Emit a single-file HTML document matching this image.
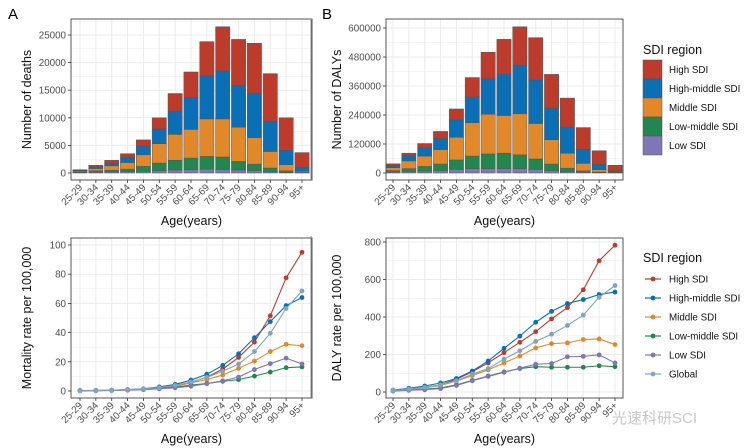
<!DOCTYPE html>
<html><head><meta charset="utf-8"><style>
body{margin:0;background:#fff;}
svg{display:block;font-family:"Liberation Sans",Arial,sans-serif;}
</style></head><body>
<svg id="chart" width="750" height="448" viewBox="0 0 750 448"></svg>
<script>
const ages=["25-29","30-34","35-39","40-44","45-49","50-54","55-59","60-64","65-69","70-74","75-79","80-84","85-89","90-94","95+"];
const regions=["High SDI","High-middle SDI","Middle SDI","Low-middle SDI","Low SDI"];
const lineRegions=["High SDI","High-middle SDI","Middle SDI","Low-middle SDI","Low SDI","Global"];
const colors=["#bd3b2b","#0a6fb4","#e1882a","#21874f","#7e76b5","#7ea6bd"];
const deathsLow=[100,150,200,250,300,450,550,600,700,650,550,450,250,100,30];
const deathsLowMid=[150,250,300,450,900,1350,1750,2100,2300,2250,1550,1150,650,300,70];
const deathsMid=[150,400,800,1200,2100,3500,4700,5200,6800,6900,6200,4800,3000,1100,200];
const deathsHighMid=[100,300,500,1000,1600,2700,4200,5800,7800,8700,7600,8100,5500,2600,700];
const deathsHigh=[100,300,500,600,1100,2000,3200,4600,6200,8000,8300,9000,8600,5900,2700];
const dalyLow=[4000,6000,8000,10000,15000,18000,18000,18000,18000,15000,10000,6000,3000,1500,500];
const dalyLowMid=[6000,12000,19000,27000,39000,52000,61000,64000,57000,43000,27000,14000,6000,2500,1000];
const dalyMid=[12000,32000,43000,60000,94000,138000,164000,156000,170000,147000,101000,62000,31000,10000,2500];
const dalyHighMid=[10000,22000,35000,46000,72000,107000,147000,172000,202000,180000,130000,108000,58000,22000,6000];
const dalyHigh=[6000,10000,17000,29000,45000,80000,110000,143000,158000,175000,140000,120000,90000,56000,22000];
const mortHigh=[0.2,0.3,0.5,0.8,1.2,2.0,3.5,6,9.5,15,23,33.5,51.5,77.5,95];
const mortHighMid=[0.3,0.4,0.6,1,1.5,2.8,4.5,7.5,11.5,17.5,25.5,36.5,47.5,58.5,64];
const mortMid=[0.2,0.3,0.5,0.8,1.2,2,3.2,5.5,7.8,11,15.5,20.5,27,32,31];
const mortLowMid=[0.2,0.3,0.4,0.7,1,1.6,2.6,4,5.2,6.6,7.8,10.2,13,16,16.5];
const mortLow=[0.1,0.2,0.4,0.6,1,1.5,2.2,3.3,5,7,9.5,14.7,18.7,22.5,18.5];
const mortGlobal=[0.2,0.3,0.5,0.9,1.4,2.3,3.8,6.2,9.3,13.5,18.5,27,39.5,56.5,68.5];
const drHigh=[8,15,25,38,68,108,155,210,265,322,390,450,545,700,783];
const drHighMid=[10,20,32,48,72,112,165,233,298,372,430,472,493,520,533];
const drMid=[8,14,22,35,58,88,118,155,192,235,258,262,280,283,253];
const drLowMid=[6,10,15,22,38,62,85,107,125,135,132,132,132,140,135];
const drLow=[5,9,12,18,35,60,83,105,127,148,152,188,190,198,155];
const drGlobal=[8,15,25,38,60,95,125,175,220,270,308,355,410,505,568];
const ticksA=[0,5000,10000,15000,20000,25000];
const ticksB=[0,120000,240000,360000,480000,600000];
const ticksC=[0,20,40,60,80,100];
const ticksD=[0,200,400,600,800];

const svg=document.getElementById('chart');
const NS="http://www.w3.org/2000/svg";
function mk(tag,attrs,parent,text){const e=document.createElementNS(NS,tag);for(const k in attrs)e.setAttribute(k,attrs[k]);if(text!=null)e.textContent=text;(parent||svg).appendChild(e);return e;}

function panel(p){
  const g=mk('g',{});
  
  
  const x=i=>p.x0+(p.x1-p.x0)*i/(ages.length-1);
  const y=v=>p.y0v-(p.y0v-p.ytv)*v/p.yt;
  const step=(p.x1-p.x0)/(ages.length-1);
  const gt=p.ticks;
  const half=gt[1]/2;
  for(let v=0;y(v)>=p.top-0.5;v+=half){
    const ln=mk('line',{x1:p.left,x2:p.right,y1:y(v),y2:y(v),stroke:'#ebebeb','stroke-width':(v%gt[1]===0)?1:0.5},g);
    
  }
  ages.forEach((a,i)=>{const ln=mk('line',{x1:x(i),x2:x(i),y1:p.top,y2:p.bottom,stroke:'#ebebeb','stroke-width':1},g);
    });
  if(p.stack){
    const bw=step*0.9;
    ages.forEach((a,i)=>{let cum=0;
      p.stack.forEach((arr,k)=>{const v=arr[i];
        const r=mk('rect',{x:x(i)-bw/2,y:y(cum+v),width:bw,height:y(cum)-y(cum+v),fill:colors[4-k],stroke:'#555','stroke-width':0.5},g);
        
        
        cum+=v;});
    });
  }
  if(p.lines){
    p.lines.forEach((arr,k)=>{
      const pl=mk('polyline',{points:arr.map((v,i)=>x(i)+','+y(v)).join(' '),fill:'none',stroke:colors[k],'stroke-width':1.1},g);
      
      
      arr.forEach((v,i)=>{const c=mk('circle',{cx:x(i),cy:y(v),r:2.4,fill:colors[k]},g);
        });
    });
  }
  const bd=mk('rect',{x:p.left,y:p.top,width:p.right-p.left,height:p.bottom-p.top,fill:'none',stroke:'#555','stroke-width':1},g);
  
  gt.forEach(v=>{
    mk('line',{x1:p.left-3,x2:p.left,y1:y(v),y2:y(v),stroke:'#333','stroke-width':0.8},g);
    const t=mk('text',{x:p.left-5,y:y(v)+3.5,'text-anchor':'end','font-size':9.8,fill:'#4d4d4d'},g,String(v));
    
  });
  ages.forEach((a,i)=>{
    mk('line',{x1:x(i),x2:x(i),y1:p.bottom,y2:p.bottom+3,stroke:'#333','stroke-width':0.8},g);
    const t=mk('text',{x:x(i)+3,y:p.bottom+8,'text-anchor':'end','font-size':9.8,fill:'#4d4d4d',transform:`rotate(-45 ${x(i)+3} ${p.bottom+8})`},g,a);
    
  });
  const xt=mk('text',{x:(p.left+p.right)/2,y:p.bottom+45,'text-anchor':'middle','font-size':12.5,fill:'#111'},g,'Age(years)');
  
  const yc=(p.top+p.bottom)/2;
  const yt=mk('text',{x:p.ytx,y:yc,'text-anchor':'middle','font-size':12.5,fill:'#111',transform:`rotate(-90 ${p.ytx} ${yc})`},g,p.ytitle);
  
}

panel({name:'panel-a-deaths',left:71,right:312,top:19,bottom:180,x0:80,x1:302,y0v:173,ytv:35,yt:25000,ticks:ticksA,
  stack:[deathsLow,deathsLowMid,deathsMid,deathsHighMid,deathsHigh],ytitle:'Number of deaths',ytx:31});
panel({name:'panel-b-dalys',left:386,right:623,top:19,bottom:180,x0:393,x1:615,y0v:173,ytv:28,yt:600000,ticks:ticksB,
  stack:[dalyLow,dalyLowMid,dalyMid,dalyHighMid,dalyHigh],ytitle:'Number of DALYs',ytx:341});
panel({name:'panel-c-mortality',left:71,right:312,top:238,bottom:398,x0:80,x1:302,y0v:391,ytv:245,yt:100,ticks:ticksC,
  lines:[mortHigh,mortHighMid,mortMid,mortLowMid,mortLow,mortGlobal],ytitle:'Mortality rate per 100,000',ytx:31});
panel({name:'panel-d-daly-rate',left:386,right:623,top:238,bottom:398,x0:393,x1:615,y0v:392,ytv:242,yt:800,ticks:ticksD,
  lines:[drHigh,drHighMid,drMid,drLowMid,drLow,drGlobal],ytitle:'DALY rate per 100,000',ytx:341});

mk('line',{x1:311,x2:311,y1:20,y2:180,stroke:'#888','stroke-width':1});
mk('line',{x1:311,x2:311,y1:236,y2:398,stroke:'#888','stroke-width':1});

const la=mk('text',{x:8,y:19,'font-size':15,fill:'#000'},null,'A');

const lb=mk('text',{x:322,y:19,'font-size':15,fill:'#000'},null,'B');


const lg1=mk('g',{});

mk('text',{x:643,y:54,'font-size':12.5,fill:'#111'},lg1,'SDI region');
regions.forEach((r,k)=>{const yy=60+k*19;
  const s=mk('rect',{x:643,y:yy,width:19,height:19,fill:colors[k],stroke:'#555','stroke-width':0.5},lg1);
  
  mk('text',{x:669,y:yy+13,'font-size':9.8,fill:'#111'},lg1,r);});
const lg2=mk('g',{});

mk('text',{x:643,y:262,'font-size':12.5,fill:'#111'},lg2,'SDI region');
lineRegions.forEach((r,k)=>{const yy=279+k*19;
  const l=mk('line',{x1:645,x2:661,y1:yy,y2:yy,stroke:colors[k],'stroke-width':1.2},lg2);
  
  mk('circle',{cx:653,cy:yy,r:2.4,fill:colors[k]},lg2);
  mk('text',{x:669,y:yy+3.5,'font-size':9.8,fill:'#111'},lg2,r);});

const wm=mk('text',{x:612,y:423,'font-size':15,fill:'#c8c8c8',"font-family":'"Liberation Sans","Noto Sans CJK SC",sans-serif'},null,'光速科研SCI');

</script>
</body></html>
